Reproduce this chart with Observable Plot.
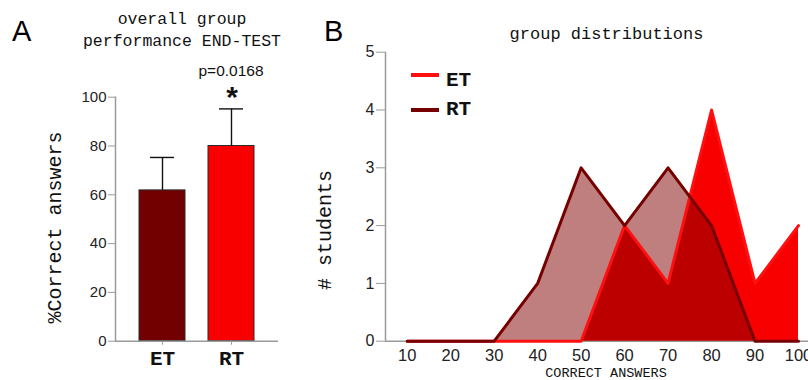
<!DOCTYPE html>
<html>
<head>
<meta charset="utf-8">
<script src="https://cdn.jsdelivr.net/npm/d3@7"></script>
<script src="https://cdn.jsdelivr.net/npm/@observablehq/plot@0.6"></script>
<style>
  html, body { margin: 0; padding: 0; background: #fff; overflow: hidden; }
  #wrap { position: relative; width: 808px; height: 380px; overflow: hidden; background: #fff; }
  #panelA { position: absolute; left: 0; top: 0; }
  #panelB { position: absolute; left: 300px; top: 0; }
  #overlay { position: absolute; left: 0; top: 0; pointer-events: none; }
</style>
</head>
<body>
<div id="wrap">
  <div id="panelA"></div>
  <div id="panelB"></div>
</div>
<script>
// ---- Panel A data: group means and mean + SD (upper whisker) ----
const barGroups = ["ET", "RT"];
const barMeans = [61.8, 80.0];
const barUpper = [75.3, 95.2];
const barColors = ["#720000", "#f80000"];
const yTicksA = [0, 20, 40, 60, 80, 100];

// ---- Panel B data: distribution of correct answers ----
const bins = [10, 20, 30, 40, 50, 60, 70, 80, 90, 100];
const etCounts = [0, 0, 0, 0, 0, 2, 1, 4, 1, 2];
const rtCounts = [0, 0, 0, 1, 3, 2, 3, 2, 0, 0];
const yTicksB = [0, 1, 2, 3, 4, 5];

const dataA = barGroups.map((g, i) => ({group: g, mean: barMeans[i], upper: barUpper[i]}));
const et = bins.map((b, i) => ({score: b, count: etCounts[i]}));
const rt = bins.map((b, i) => ({score: b, count: rtCounts[i]}));

const axisGray = "#9a9a9a";
const sans = "Liberation Sans, Arial, sans-serif";
const mono = "Liberation Mono, Courier New, monospace";

const plotA = Plot.plot({
  width: 300, height: 380,
  marginLeft: 115, marginRight: 22, marginTop: 96.7, marginBottom: 39.3,
  style: {background: "transparent", overflow: "visible"},
  x: {domain: barGroups, paddingInner: 0.34, paddingOuter: 0.34, label: null},
  y: {domain: [0, 100], label: null},
  color: {domain: barGroups, range: barColors},
  marks: [
    Plot.barY(dataA, {x: "group", y: "mean", fill: "group", stroke: "#2a2a2a", strokeWidth: 1}),
    Plot.ruleX(dataA, {x: "group", y1: "mean", y2: "upper", stroke: "#111", strokeWidth: 1.4}),
    Plot.tickY(dataA, {x: "group", y: "upper", stroke: "#111", strokeWidth: 1.4, insetLeft: 11, insetRight: 11}),
    Plot.ruleY([0], {stroke: axisGray, strokeWidth: 1.5}),
    Plot.frame({anchor: "left", stroke: axisGray, strokeWidth: 1.5}),
    Plot.axisY({ticks: yTicksA, tickSize: 7, tickPadding: 2, stroke: axisGray, fill: "#222",
      fontSize: 15, fontFamily: sans, label: null}),
    Plot.axisX({tickSize: 4, tickPadding: 5, stroke: axisGray, fill: "#111",
      fontSize: 21, fontFamily: mono, fontWeight: "bold", label: null})
  ]
});
document.getElementById("panelA").append(plotA);

const plotB = Plot.plot({
  width: 508, height: 380,
  marginLeft: 85, marginRight: 0, marginTop: 51.7, marginBottom: 39.3,
  style: {background: "transparent", overflow: "visible"},
  x: {domain: [5, 102.3], label: null},
  y: {domain: [0, 5], label: null},
  marks: [
    Plot.ruleY([0], {stroke: axisGray, strokeWidth: 1.5}),
    Plot.ruleX([5], {stroke: axisGray, strokeWidth: 1.5}),
    Plot.areaY(et, {x: "score", y: "count", fill: "#f80000"}),
    Plot.areaY(rt, {x: "score", y: "count", fill: "#800000", fillOpacity: 0.5}),
    Plot.lineY(et, {x: "score", y: "count", stroke: "#ff1010", strokeWidth: 3}),
    Plot.lineY(rt, {x: "score", y: "count", stroke: "#760000", strokeWidth: 3}),
    Plot.axisY({ticks: yTicksB, tickFormat: d3.format("d"), tickSize: 9, tickPadding: 2,
      stroke: axisGray, fill: "#222", fontSize: 16, fontFamily: sans, label: null}),
    Plot.axisX({ticks: bins, tickFormat: d3.format("d"), tickSize: 0, tickPadding: 8, fill: "#222",
      fontSize: 16.5, fontFamily: sans, label: null})
  ]
});
document.getElementById("panelB").append(plotB);

// ---- Titles, labels and legend ----
const ns = "http://www.w3.org/2000/svg";
const ov = document.createElementNS(ns, "svg");
ov.setAttribute("id", "overlay");
ov.setAttribute("width", 808);
ov.setAttribute("height", 380);
document.getElementById("wrap").append(ov);
function txt(str, x, y, opts = {}) {
  const t = document.createElementNS(ns, "text");
  t.textContent = str;
  t.setAttribute("x", x); t.setAttribute("y", y);
  t.setAttribute("font-family", opts.family || mono);
  t.setAttribute("font-size", opts.size || 16);
  t.setAttribute("text-anchor", opts.anchor || "middle");
  t.setAttribute("fill", opts.fill || "#111");
  if (opts.weight) t.setAttribute("font-weight", opts.weight);
  if (opts.rotate) t.setAttribute("transform", `rotate(-90 ${x} ${y})`);
  ov.append(t);
}
function seg(x1, x2, y, color) {
  const l = document.createElementNS(ns, "line");
  l.setAttribute("x1", x1); l.setAttribute("x2", x2);
  l.setAttribute("y1", y); l.setAttribute("y2", y);
  l.setAttribute("stroke", color); l.setAttribute("stroke-width", 4);
  ov.append(l);
}
txt("A", 12, 41, {family: sans, size: 29, anchor: "start", fill: "#000"});
txt("B", 324, 41, {family: sans, size: 29, anchor: "start", fill: "#000"});
txt("overall group", 182, 24, {size: 16.5});
txt("performance END-TEST", 182, 46, {size: 16.5});
txt("p=0.0168", 231, 76, {family: sans, size: 15.5});
txt("*", 232, 107, {family: sans, size: 30, weight: "bold"});
txt("%Correct answers", 61, 227.5, {size: 20, rotate: true});
txt("group distributions", 606.5, 39, {size: 17});
txt("# students", 331, 230, {size: 20, rotate: true});
txt("CORRECT ANSWERS", 606, 377, {size: 13.5});
seg(411, 439, 75, "#ff1010");
seg(411, 439, 110, "#760000");
txt("ET", 446, 86, {size: 21, anchor: "start", weight: "bold"});
txt("RT", 446, 115, {size: 21, anchor: "start", weight: "bold"});
</script>
</body>
</html>
